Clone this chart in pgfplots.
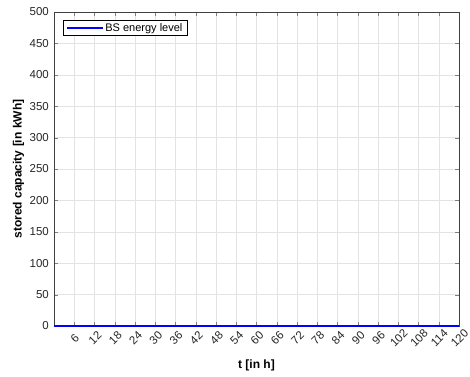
\documentclass[border=0pt]{standalone}
\usepackage{pgfplots}
\pgfplotsset{compat=1.18}
\usepackage{fontspec}
\setmainfont{Liberation Sans}
\definecolor{mblue}{RGB}{0,0,255}
\begin{document}
\begin{tikzpicture}
\path[use as bounding box] (-54pt,-50pt) rectangle (416pt,326pt);
\begin{axis}[
  at={(0,0)}, anchor=south west,
  scale only axis, width=405pt, height=314pt,
  xmin=0, xmax=120, ymin=0, ymax=500,
  xtick={6,12,...,120}, ytick={0,50,...,500},
  /pgf/number format/assume math mode=true,
  tick label style={font=\fontsize{11.5}{13}\selectfont, color=black!85},
  xticklabel style={yshift=-12pt, xshift=0.5pt, rotate=45, anchor=center, inner sep=0pt},
  yticklabel style={inner sep=0pt, xshift=-5pt},
  tick align=inside, tick pos=both,
  major tick length=4pt,
  grid=major, major grid style={gray!22, line width=0.5pt},
  axis line style={black!75, line width=0.5pt},
  xlabel={\bfseries t [in h]}, ylabel={\bfseries stored capacity [in kWh]},
  label style={font=\fontsize{12}{14}\selectfont},
  xlabel style={at={(axis description cs:0.5,-0.124)}, anchor=center},
  ylabel style={at={(axis description cs:-0.0877,0.5)}, anchor=center},
  legend style={at={(axis description cs:0,1)}, anchor=north west, xshift=9pt, yshift=-8pt, inner xsep=3pt, inner ysep=1pt},
  legend cell align=left,
  legend image code/.code={\draw[#1] plot coordinates {(0pt,0pt) (18pt,0pt) (36pt,0pt)};},
]
\addplot[color=mblue, line width=1.2pt] coordinates {(0,0) (24,0) (48,0) (72,0) (96,0) (120,0)};
\addlegendentry{\fontsize{11}{13}\selectfont BS energy level}
\end{axis}
\end{tikzpicture}
\end{document}
